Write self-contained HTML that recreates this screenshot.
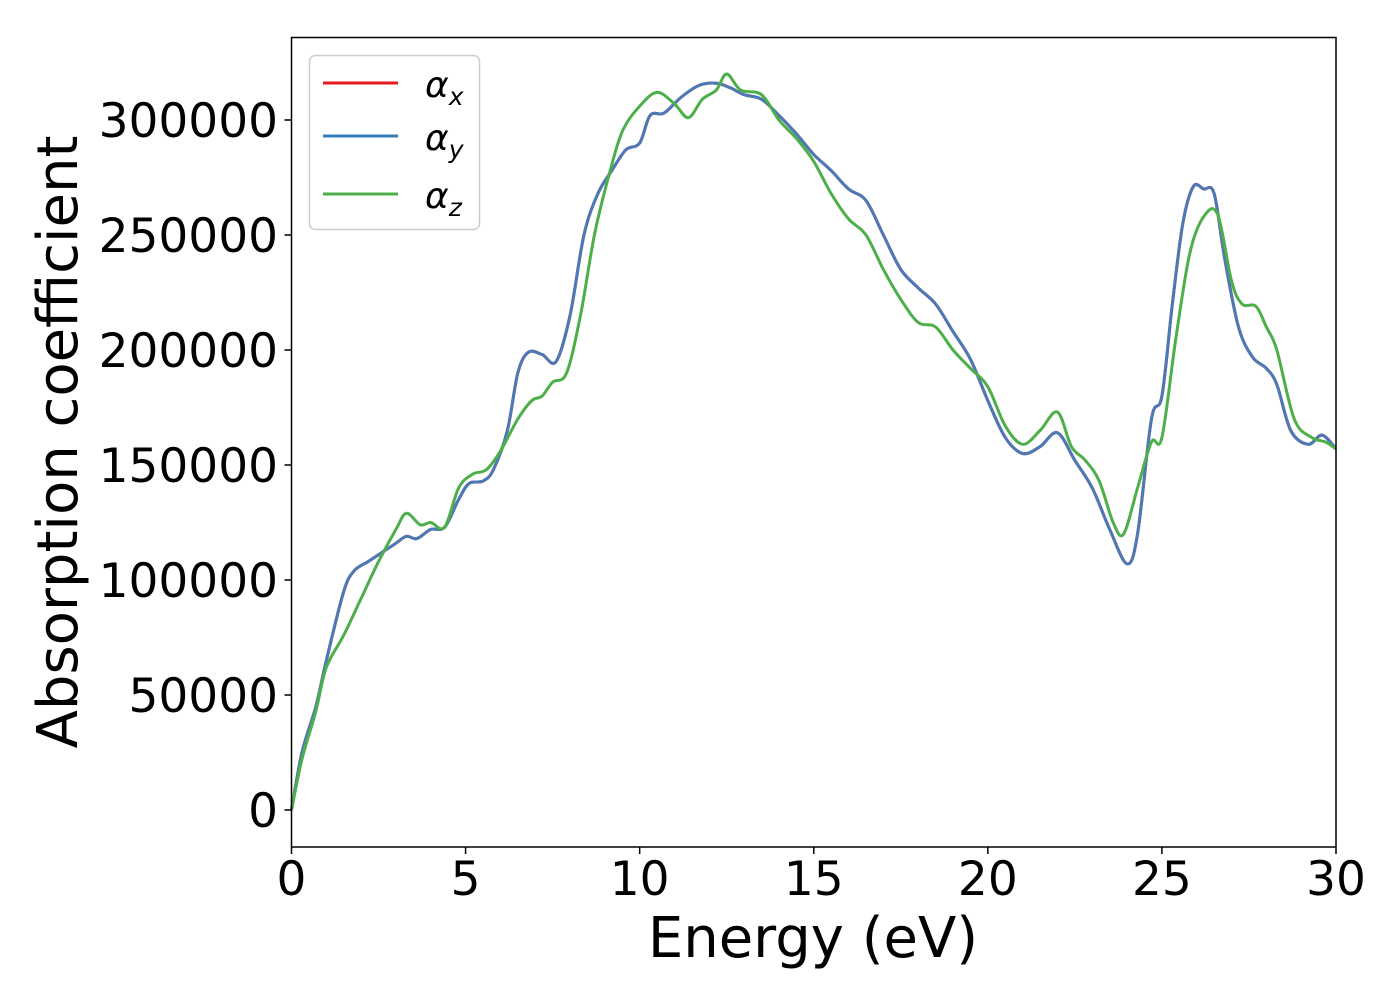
<!DOCTYPE html>
<html><head><meta charset="utf-8"><style>
html,body{margin:0;padding:0;background:#fff;}
svg text{font-family:"DejaVu Sans","Liberation Sans",sans-serif;}
</style></head><body>
<svg id="chart" width="1400" height="1000" viewBox="0 0 1400 1000" xmlns="http://www.w3.org/2000/svg">
<rect width="1400" height="1000" fill="#fff"/>
<g id="series"></g>
<rect x="291.5" y="37.5" width="1044.5" height="809.5" fill="none" stroke="#000" stroke-width="1.5"/>
<g id="ticks"></g>
<text x="813" y="957" font-size="56" text-anchor="middle">Energy (eV)</text>
<text transform="translate(77,442) rotate(-90)" font-size="56" text-anchor="middle">Absorption coefficient</text>
<g>
<rect x="309.5" y="55.5" width="170" height="174" rx="6" fill="#fff" fill-opacity="0.8" stroke="#ccc" stroke-width="1.5"/>
<line x1="323" y1="83" x2="398" y2="83" stroke="#e41a1c" stroke-width="3"/>
<line x1="323" y1="136" x2="398" y2="136" stroke="#377eb8" stroke-width="3"/>
<line x1="323" y1="194" x2="398" y2="194" stroke="#4daf4a" stroke-width="3"/>
<text x="425" y="97" font-size="36" font-style="italic">α<tspan font-size="25" dy="8">x</tspan></text>
<text x="425" y="150" font-size="36" font-style="italic">α<tspan font-size="25" dy="8">y</tspan></text>
<text x="425" y="208" font-size="36" font-style="italic">α<tspan font-size="25" dy="8">z</tspan></text>
</g>
</svg>
<script>
const xyEnergy=[0,0.3,0.7,1,1.5,1.8,2.2,2.6,3,3.3,3.6,4,4.4,4.8,5.1,5.5,5.8,6.2,6.5,6.8,7.2,7.6,8,8.4,8.8,9.2,9.6,10,10.3,10.7,11.2,11.7,12.2,12.6,13,13.5,14,14.5,15,15.5,16,16.5,17,17.5,18,18.5,19,19.5,20,20.5,21,21.5,22,22.5,23,23.5,24,24.3,24.7,25,25.3,25.6,25.9,26.2,26.5,26.8,27.2,27.6,28,28.3,28.7,29.2,29.6,30];
const alphaXY=[0,25000,45000,65000,95000,104000,108000,112000,116000,119000,118000,122000,123000,135000,142000,143000,148000,165000,190000,199000,198000,195000,215000,250000,268000,278000,287000,290000,302000,303000,310000,315000,316000,314000,311000,309000,302000,294000,285000,278000,270000,265000,250000,235000,227000,220000,208000,196000,178000,162000,155000,158000,164000,152000,140000,122000,107000,120000,170000,180000,220000,255000,271000,270000,268000,240000,210000,197000,192000,185000,165000,159000,163000,157000];
const zEnergy=[0,0.3,0.7,1,1.5,2,2.5,3,3.3,3.7,4,4.4,4.8,5.2,5.6,6,6.5,6.9,7.2,7.5,7.9,8.3,8.7,9.1,9.5,10,10.5,11,11.4,11.8,12.2,12.5,12.9,13.5,14,14.5,15,15.5,16,16.5,17,17.5,18,18.5,19,19.5,20,20.5,21,21.5,22,22.4,22.8,23.2,23.6,23.9,24.3,24.7,25,25.4,25.8,26.2,26.6,27,27.3,27.7,28,28.3,28.8,29.3,29.7,30];
const alphaZ=[0,22000,43000,62000,76000,92000,108000,122000,129000,124000,125000,123000,140000,146000,148000,156000,170000,178000,180000,186000,190000,215000,250000,275000,295000,306000,312000,307000,301000,309000,313000,320000,313000,311000,300000,292000,282000,268000,257000,250000,235000,222000,212000,210000,200000,192000,184000,167000,159000,165000,173000,158000,152000,143000,125000,120000,140000,160000,162000,205000,242000,258000,259000,230000,220000,219000,210000,200000,170000,162000,160000,157000];
const xTicks=[0,5,10,15,20,25,30];
const yTicks=[0,50000,100000,150000,200000,250000,300000];

const NS="http://www.w3.org/2000/svg";
function sx(v){return 291.5+(v/30)*1044.5;}
function sy(v){return 810-(v/50000)*115;}
function path(xs,ys){
  const p=xs.map((x,i)=>[sx(x),sy(ys[i])]);
  let d="M"+p[0][0]+","+p[0][1];
  for(let i=0;i<p.length-1;i++){
    const p0=p[Math.max(i-1,0)],p1=p[i],p2=p[i+1],p3=p[Math.min(i+2,p.length-1)];
    const c1=[p1[0]+(p2[0]-p0[0])/6,p1[1]+(p2[1]-p0[1])/6];
    const c2=[p2[0]-(p3[0]-p1[0])/6,p2[1]-(p3[1]-p1[1])/6];
    d+=" C"+c1[0]+","+c1[1]+" "+c2[0]+","+c2[1]+" "+p2[0]+","+p2[1];
  }
  return d;
}
const sg=document.getElementById("series");
function addLine(xs,ys,color,name){
  const el=document.createElementNS(NS,"path");
  el.setAttribute("d",path(xs,ys));
  el.setAttribute("fill","none");
  el.setAttribute("stroke",color);
  el.setAttribute("stroke-width","3");
  
  
  sg.appendChild(el);
}
addLine(xyEnergy,alphaXY,"#e41a1c","line-alpha-x");
addLine(xyEnergy,alphaXY,"#4a7ab8","line-alpha-y");
addLine(zEnergy,alphaZ,"#4daf4a","line-alpha-z");

const tg=document.getElementById("ticks");
xTicks.forEach(t=>{
  const l=document.createElementNS(NS,"line");
  l.setAttribute("x1",sx(t));l.setAttribute("x2",sx(t));
  l.setAttribute("y1",847);l.setAttribute("y2",854);
  l.setAttribute("stroke","#000");l.setAttribute("stroke-width","1.5");
  
  
  tg.appendChild(l);
  const tx=document.createElementNS(NS,"text");
  tx.setAttribute("x",sx(t));tx.setAttribute("y",895);
  tx.setAttribute("font-size","47");tx.setAttribute("text-anchor","middle");
  tx.textContent=t;
  
  
  tg.appendChild(tx);
});
yTicks.forEach(t=>{
  const l=document.createElementNS(NS,"line");
  l.setAttribute("x1",284.5);l.setAttribute("x2",291.5);
  l.setAttribute("y1",sy(t));l.setAttribute("y2",sy(t));
  l.setAttribute("stroke","#000");l.setAttribute("stroke-width","1.5");
  
  
  tg.appendChild(l);
  const tx=document.createElementNS(NS,"text");
  tx.setAttribute("x",278);tx.setAttribute("y",sy(t)+17);
  tx.setAttribute("font-size","47");tx.setAttribute("text-anchor","end");
  tx.textContent=t;
  
  
  tg.appendChild(tx);
});
</script>
</body></html>
